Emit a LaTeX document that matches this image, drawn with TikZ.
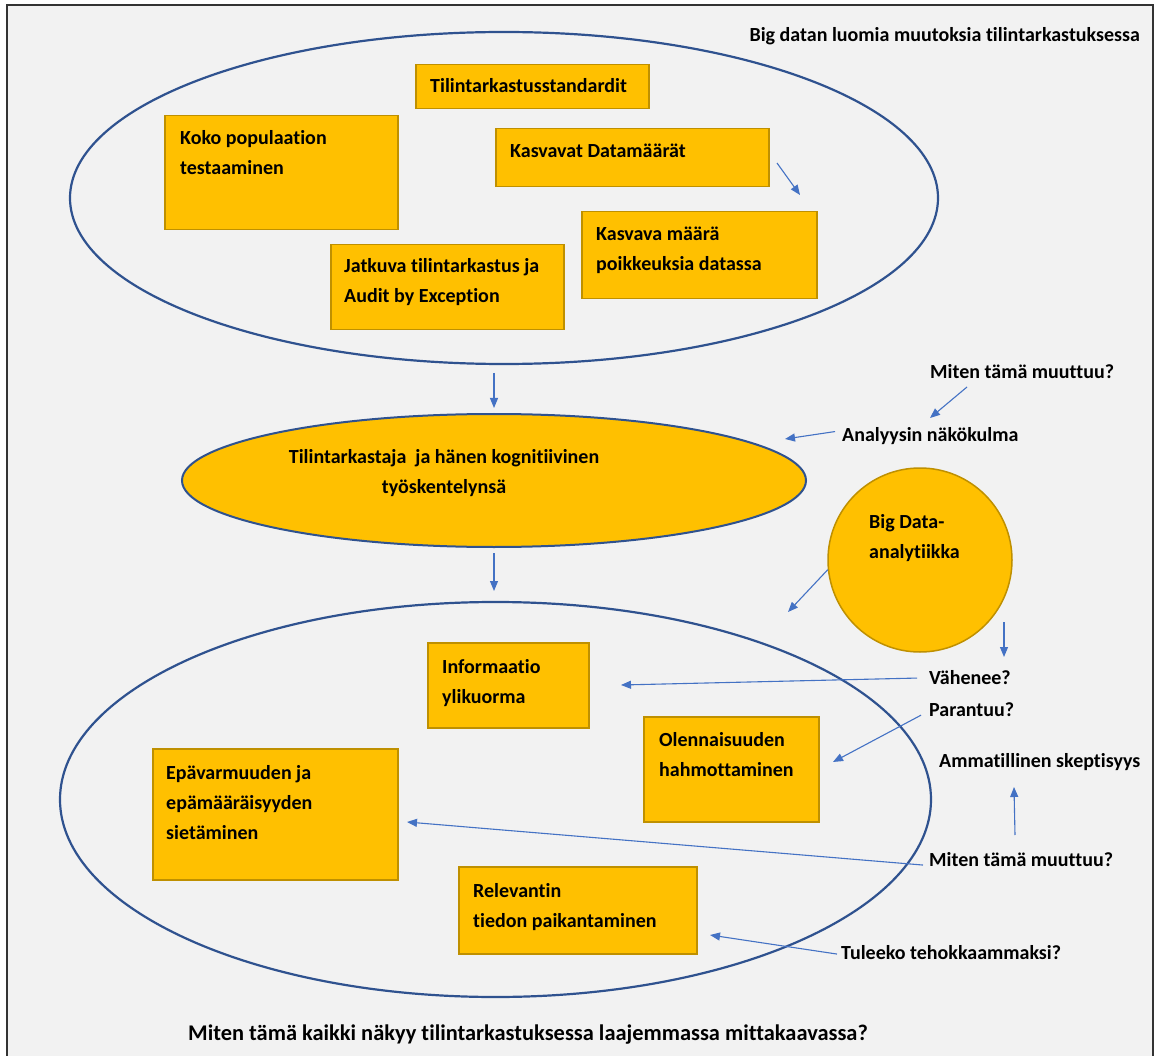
\documentclass[tikz,border=0pt]{standalone}
\usepackage{fontspec}
\setmainfont{Carlito}[Ligatures=NoCommon]
\usetikzlibrary{arrows.meta}
\usetikzlibrary{shapes}
\usetikzlibrary{calc}
\usetikzlibrary{positioning}
\definecolor{gold}{HTML}{FFC000}
\definecolor{golddark}{HTML}{BF9000}
\definecolor{ringblue}{HTML}{2F528F}
\definecolor{arrowblue}{HTML}{4472C4}
\definecolor{paper}{HTML}{F2F2F2}

\begin{document}
\begin{tikzpicture}[x=1pt,y=-1pt,
  every node/.style={font=\fontsize{20}{30}\selectfont\bfseries},
  ring/.style={ellipse, draw=ringblue, line width=2.2pt, inner sep=0},
  box/.style={draw=golddark, fill=gold, line width=1.5pt, anchor=north west, inner sep=0},
  txt/.style={anchor=base west, inner sep=0, align=left},
  arr/.style={draw=arrowblue, line width=1.1pt, -{Triangle[length=10pt,width=8pt]}}]
\useasboundingbox (0,0) rectangle (1154,1056);
\fill [white] (0,0) rectangle (1154,1056);
\fill [paper] (7,5) rectangle (1153,1056);
\draw [line width=1.8pt, draw=black!80] (7,1060) -- (7,5) -- (1153,5) -- (1153,1060);

% upper ring (multi-line texts sit on their last baseline)
\node (outer) [ring, minimum width=868pt, minimum height=332pt] at (504,198) {};
\node (title) [anchor=base east, inner sep=0] at (1140,42) {Big datan luomia muutoksia tilintarkastuksessa};
\node (std) [box, minimum width=233pt, minimum height=44pt] at (415,64) {};
\node (stdt) [txt] at (430,93) {Tilintarkastusstandardit};
\node (koko) [box, minimum width=233pt, minimum height=114pt] at (164,115) {};
\node (kokot) [txt] at (180,174.5) {Koko populaation\\testaaminen};
\node (kasv) [box, minimum width=273pt, minimum height=58pt] at (495,128) {};
\node (kasvt) [txt] at (510,158) {Kasvavat Datamäärät};
\node (poik) [box, minimum width=235pt, minimum height=87pt] at (581,211) {};
\node (poikt) [txt] at (596,271) {Kasvava määrä\\poikkeuksia datassa};
\node (jatk) [box, minimum width=233pt, minimum height=85pt] at (330,244) {};
\node (jatkt) [txt] at (344,303) {Jatkuva tilintarkastus ja\\Audit by Exception};
\coordinate (k1) at (777,163);
\coordinate (k2) at (800,195);
\draw [arr] (k1) -- (k2);

% auditor
\node (mind) [ring, fill=gold, line width=2pt, minimum width=624pt, minimum height=133pt] at (494,480.5) {};
\node (mindt) [align=center, inner sep=0] at (444,473) {Tilintarkastaja~~ja hänen kognitiivinen\\työskentelynsä};
\draw [arr] ([yshift=40pt]mind.north) -- ([yshift=5pt]mind.north);

% lower ring
\node (inner) [ring, minimum width=871pt, minimum height=395pt] at (495.5,799.5) {};
\draw [arr] ([yshift=-5pt]mind.south) -- ([yshift=-43pt]mind.south);
\node (info) [box, minimum width=161pt, minimum height=85pt] at (427,642) {};
\node (infot) [txt] at (442,703) {Informaatio\\ylikuorma};
\node (olen) [box, minimum width=175pt, minimum height=105pt] at (643,716) {};
\node (olent) [txt] at (659,776) {Olennaisuuden\\hahmottaminen};
\node (epa) [box, minimum width=245pt, minimum height=131pt] at (152,748) {};
\node (epat) [txt] at (166,839) {Epävarmuuden ja\\epämääräisyyden\\sietäminen};
\node (rel) [box, minimum width=238pt, minimum height=87pt] at (458,866) {};
\node (relt) [txt] at (473,927) {Relevantin\\tiedon paikantaminen};

% big data and questions
\node (bigdata) [circle, draw=golddark, fill=gold, line width=1.5pt, minimum size=184pt, inner sep=0] at (920,560) {};
\node (bigdatat) [txt] at (869,558) {Big Data-\\analytiikka};
\node (mit1) [txt] at (930,379) {Miten tämä muuttuu?};
\node (ana) [txt] at (842,441) {Analyysin näkökulma};
\node (vah) [txt] at (929,684) {Vähenee?};
\node (par) [txt] at (929,716) {Parantuu?};
\node (amm) [txt] at (939,767) {Ammatillinen skeptisyys};
\node (mit2) [txt] at (929,866) {Miten tämä muuttuu?};
\node (tul) [txt] at (841,959) {Tuleeko tehokkaammaksi?};
\node (laaj) [txt, font=\fontsize{22.4}{30}\selectfont\bfseries] at (188,1040) {Miten tämä kaikki näkyy tilintarkastuksessa laajemmassa mittakaavassa?};

\coordinate (m1s) at (967,387);
\coordinate (m1e) at (930,418);
\coordinate (anatip) at (785,439);
\coordinate (bdtip) at (788,612);
\coordinate (bds) at (1004,622);
\coordinate (bde) at (1004,657);
\coordinate (infotip) at (621,685);
\coordinate (olentip) at (833,762);
\coordinate (m2s) at (1015,835);
\coordinate (m2e) at (1014,787);
\coordinate (epatip) at (407,822);
\coordinate (reltip) at (710,935);

\draw [arr] (m1s) -- (m1e);
\draw [arr] ([xshift=-7pt,yshift=4pt]ana.west) -- (anatip);
\draw [arr] (bigdata.186) -- (bdtip);
\draw [arr] (bds) -- (bde);
\draw [arr] ([xshift=-12pt,yshift=-1pt]vah.west) -- (infotip);
\draw [arr] ([xshift=-8pt,yshift=-6pt]par.west) -- (olentip);
\draw [arr] (m2s) -- (m2e);
\draw [arr] ([xshift=-6pt,yshift=-6pt]mit2.west) -- (epatip);
\draw [arr] ([xshift=-4pt,yshift=-2pt]tul.west) -- (reltip);
\end{tikzpicture}
\end{document}
